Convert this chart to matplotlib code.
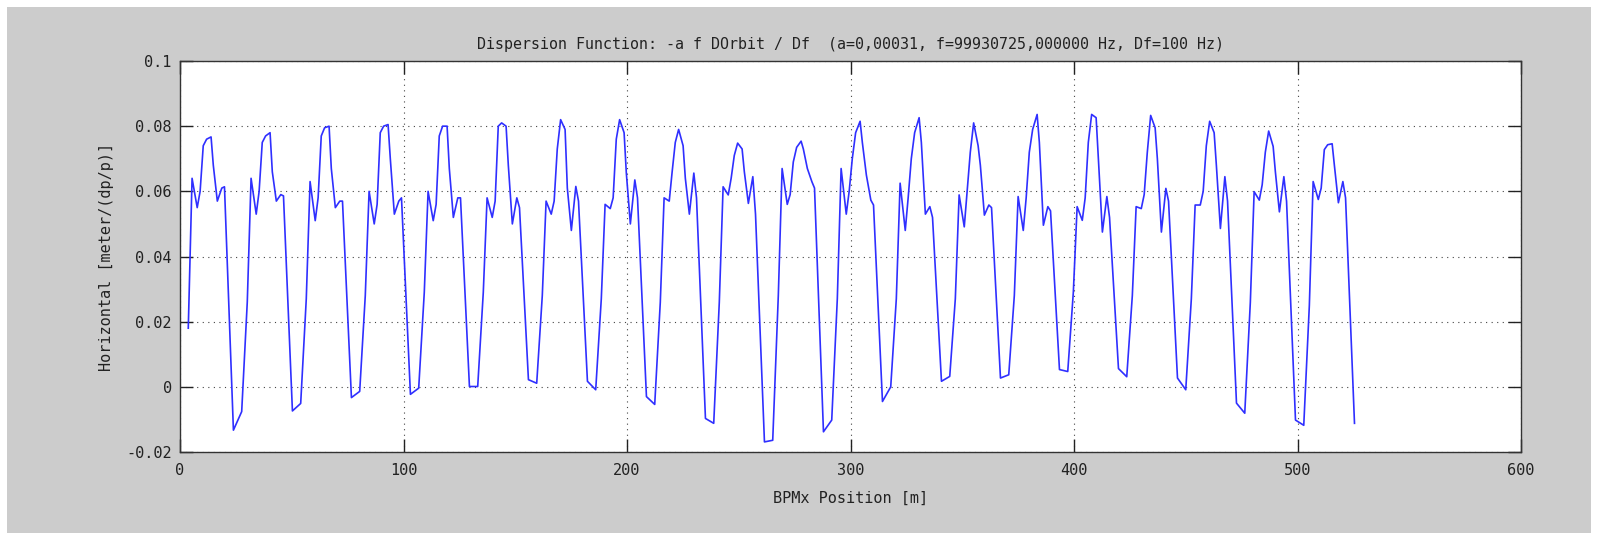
import numpy as np
import matplotlib
matplotlib.use('Agg')
import matplotlib.pyplot as plt
from matplotlib.patches import Rectangle

# Ring layout: 20 achromats, 13 BPMs per achromat (positions relative to first BPM)
first_bpm = 3.7
cell_length = 26.4
bpm_offsets = [0.0, 1.7, 4.0, 5.3, 6.7, 8.2, 10.2, 11.2, 13.0, 15.0, 16.2, 20.2, 23.9]

# Horizontal dispersion read at each BPM, one row per achromat
disp_cells = [
    [0.018, 0.064, 0.055, 0.060, 0.074, 0.076, 0.0767, 0.068, 0.057, 0.061, 0.0614, -0.0133, -0.0076],
    [0.026, 0.064, 0.053, 0.060, 0.075, 0.077, 0.078, 0.066, 0.057, 0.059, 0.0586, -0.0074, -0.0051],
    [0.027, 0.063, 0.051, 0.058, 0.077, 0.0795, 0.080, 0.067, 0.055, 0.057, 0.057, -0.0033, -0.0014],
    [0.028, 0.060, 0.050, 0.056, 0.078, 0.080, 0.0805, 0.070, 0.053, 0.057, 0.058, -0.0023, -0.0004],
    [0.029, 0.060, 0.051, 0.056, 0.077, 0.080, 0.080, 0.067, 0.052, 0.058, 0.058, 0.0001, 0.0001],
    [0.029, 0.058, 0.052, 0.057, 0.080, 0.081, 0.080, 0.068, 0.050, 0.058, 0.055, 0.0022, 0.0011],
    [0.028, 0.057, 0.053, 0.057, 0.073, 0.082, 0.079, 0.061, 0.048, 0.0615, 0.057, 0.0017, -0.0009],
    [0.027, 0.056, 0.0547, 0.058, 0.076, 0.082, 0.078, 0.0656, 0.050, 0.0635, 0.058, -0.003, -0.0054],
    [0.026, 0.058, 0.057, 0.066, 0.075, 0.079, 0.074, 0.064, 0.053, 0.0656, 0.058, -0.0097, -0.0112],
    [0.026, 0.0614, 0.0589, 0.064, 0.071, 0.0748, 0.073, 0.066, 0.0563, 0.0645, 0.053, -0.0169, -0.0164],
    [0.028, 0.067, 0.056, 0.059, 0.069, 0.0735, 0.0754, 0.073, 0.067, 0.063, 0.061, -0.0138, -0.0102],
    [0.027, 0.067, 0.053, 0.060, 0.070, 0.078, 0.0815, 0.075, 0.065, 0.0573, 0.0558, -0.0045, 0.0],
    [0.027, 0.0625, 0.048, 0.058, 0.070, 0.078, 0.0826, 0.075, 0.053, 0.0553, 0.052, 0.0017, 0.0032],
    [0.027, 0.0589, 0.0491, 0.060, 0.072, 0.081, 0.074, 0.068, 0.0527, 0.0558, 0.055, 0.0027, 0.0037],
    [0.028, 0.0584, 0.048, 0.058, 0.072, 0.079, 0.0836, 0.075, 0.0496, 0.0553, 0.054, 0.0053, 0.0047],
    [0.029, 0.0553, 0.0511, 0.058, 0.075, 0.0836, 0.0826, 0.070, 0.0475, 0.0584, 0.052, 0.0056, 0.0031],
    [0.028, 0.0553, 0.0547, 0.059, 0.072, 0.0833, 0.0795, 0.070, 0.0475, 0.0609, 0.057, 0.0027, -0.0009],
    [0.027, 0.0558, 0.0558, 0.060, 0.074, 0.0815, 0.078, 0.068, 0.0486, 0.0645, 0.057, -0.005, -0.0081],
    [0.026, 0.0599, 0.0573, 0.062, 0.072, 0.0785, 0.0738, 0.066, 0.0537, 0.0645, 0.057, -0.0102, -0.0118],
    [0.025, 0.063, 0.0575, 0.061, 0.0728, 0.0743, 0.0746, 0.068, 0.0565, 0.063, 0.058, -0.0112],
]

title = 'Dispersion Function: -a f DOrbit / Df  (a=0,00031, f=99930725,000000 Hz, Df=100 Hz)'
xlabel = 'BPMx Position [m]'
ylabel = 'Horizontal [meter/(dp/p)]'
xticks = [0, 100, 200, 300, 400, 500, 600]
yticks = [-0.02, 0, 0.02, 0.04, 0.06, 0.08, 0.1]
ytick_labels = ['-0.02', '0', '0.02', '0.04', '0.06', '0.08', '0.1']

pos, disp = [], []
for k, row in enumerate(disp_cells):
    for off, val in zip(bpm_offsets, row):
        pos.append(first_bpm + k * cell_length + off)
        disp.append(val)

plt.rcParams['font.family'] = ['DejaVu Sans Mono']
plt.rcParams['font.size'] = 11

fig = plt.figure(figsize=(15.99, 5.33), dpi=100, facecolor='white')
# grey window background with a thin white margin at top/left/right
fig.patches.append(Rectangle((7 / 1599, 0), 1 - 15 / 1599, 1 - 7 / 533,
                             transform=fig.transFigure, facecolor='#cccccc',
                             edgecolor='none', zorder=-10))

ax = fig.add_axes([180 / 1599, 1 - 452 / 533, 1341 / 1599, 391 / 533])
ax.set_facecolor('white')
ax.plot(pos, disp, color='#2f2fff', lw=1.2)

ax.set_xlim(0, 600)
ax.set_ylim(-0.02, 0.1)
ax.set_xticks(xticks)
ax.set_yticks(yticks)
ax.set_yticklabels(ytick_labels)
ax.grid(True, color='#444444', linestyle=(0, (1, 4)), linewidth=0.8)
ax.tick_params(direction='in', length=9.4, width=1, top=True, right=True,
               colors='#222222', labelsize=11)
ax.tick_params(axis='x', pad=8)
ax.tick_params(axis='y', pad=6)
for sp in ax.spines.values():
    sp.set_color('#333333')
    sp.set_linewidth(1)

ax.set_title(title, fontsize=10.8, color='#222222', pad=9)
ax.set_xlabel(xlabel, fontsize=11, color='#222222', labelpad=9)
ax.set_ylabel(ylabel, fontsize=11, color='#222222', labelpad=9)

fig.savefig('out.png', dpi=100, facecolor=fig.get_facecolor())
